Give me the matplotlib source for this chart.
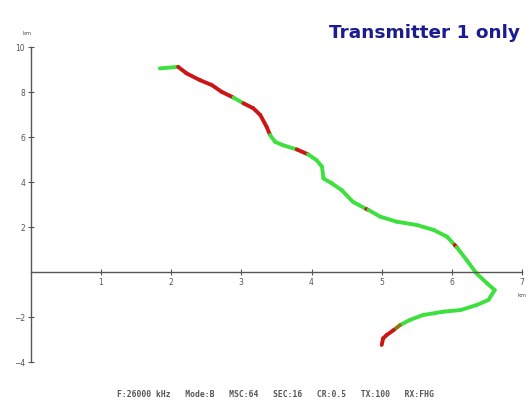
import matplotlib
matplotlib.use("Agg")
import matplotlib.pyplot as plt
from matplotlib.collections import LineCollection
import numpy as np

# --------------------------------------------------
# Track data (km)
# --------------------------------------------------
track_x = [1.84, 2.10, 2.22, 2.41, 2.58, 2.72, 2.89, 3.03, 3.17, 3.27,
           3.36, 3.41, 3.48, 3.59, 3.79, 3.95, 4.07, 4.15, 4.17, 4.29,
           4.43, 4.59, 4.78, 4.81, 4.98, 5.21, 5.50, 5.74, 5.93, 6.04,
           6.07, 6.21, 6.35, 6.50, 6.61, 6.52, 6.35, 6.12, 5.88, 5.59,
           5.40, 5.26, 5.17, 5.07, 5.02, 5.00]
track_y = [9.05, 9.12, 8.83, 8.53, 8.31, 8.01, 7.75, 7.50, 7.28, 6.98,
           6.46, 6.09, 5.79, 5.64, 5.45, 5.23, 4.98, 4.68, 4.16, 3.94,
           3.64, 3.12, 2.80, 2.76, 2.46, 2.24, 2.09, 1.87, 1.57, 1.20,
           1.10, 0.53, -0.06, -0.50, -0.80, -1.24, -1.47, -1.69, -1.76, -1.91,
           -2.13, -2.36, -2.58, -2.80, -2.95, -3.24]
# reception per segment: 1 = ok (green), 0 = lost (red), 2 = partial
reception = [1, 0, 0, 0, 0, 0, 1, 0, 0, 0,
             0, 1, 1, 1, 0, 1, 1, 1, 1, 1,
             1, 1, 0, 1, 1, 1, 1, 1, 1, 0,
             1, 1, 1, 1, 1, 1, 1, 1, 1, 1,
             1, 2, 0, 0, 0]

y_ticks = [-4, -2, 2, 4, 6, 8, 10]
x_ticks = [1, 2, 3, 4, 5, 6, 7]
title = "Transmitter 1 only"
footer = "F:26000 kHz   Mode:B   MSC:64   SEC:16   CR:0.5   TX:100   RX:FHG"

colour_map = {1: "#3ee03e", 0: "#cc1515", 2: "#8a7a10"}

# --------------------------------------------------
# Figure
# --------------------------------------------------
fig = plt.figure(figsize=(5.29, 4.03), dpi=100)
ax = fig.add_axes([0, 0, 1, 1])
ax.set_xlim(-0.437, 7.098)
ax.set_ylim(-5.82, 12.09)

for side in ["top", "right"]:
    ax.spines[side].set_visible(False)
ax.spines["left"].set_position(("data", 0))
ax.spines["bottom"].set_position(("data", 0))
ax.spines["left"].set_bounds(-4, 10)
ax.spines["bottom"].set_bounds(0, 7)
for side in ["left", "bottom"]:
    ax.spines[side].set_color("#555555")
    ax.spines[side].set_linewidth(1.0)

ax.set_yticks(y_ticks)
ax.set_xticks(x_ticks)
ax.tick_params(direction="inout", length=5, width=0.8, colors="#555555",
               labelsize=5.5, labelcolor="#555555", pad=1.5)

# track
pts = np.column_stack([track_x, track_y])
segs = [pts[i:i + 2] for i in range(len(pts) - 1)]
lc = LineCollection(segs, colors=[colour_map[r] for r in reception],
                    linewidths=2.8, capstyle="round", joinstyle="round")
ax.add_collection(lc)

# labels
ax.text(-0.05, 10.62, "km", fontsize=4.2, color="#555555",
        ha="center", va="center")
ax.text(7.0, -1.05, "km", fontsize=4.2, color="#555555",
        ha="center", va="center")
fig.text(0.803, 0.918, title, fontsize=13.3, fontweight="bold",
         color="#1c1c8e", ha="center", va="center")
fig.text(0.52, 0.02, footer, fontsize=5.8, fontweight="bold",
         family="DejaVu Sans Mono", color="#555555", ha="center", va="center")

fig.savefig("out.png", dpi=100)
